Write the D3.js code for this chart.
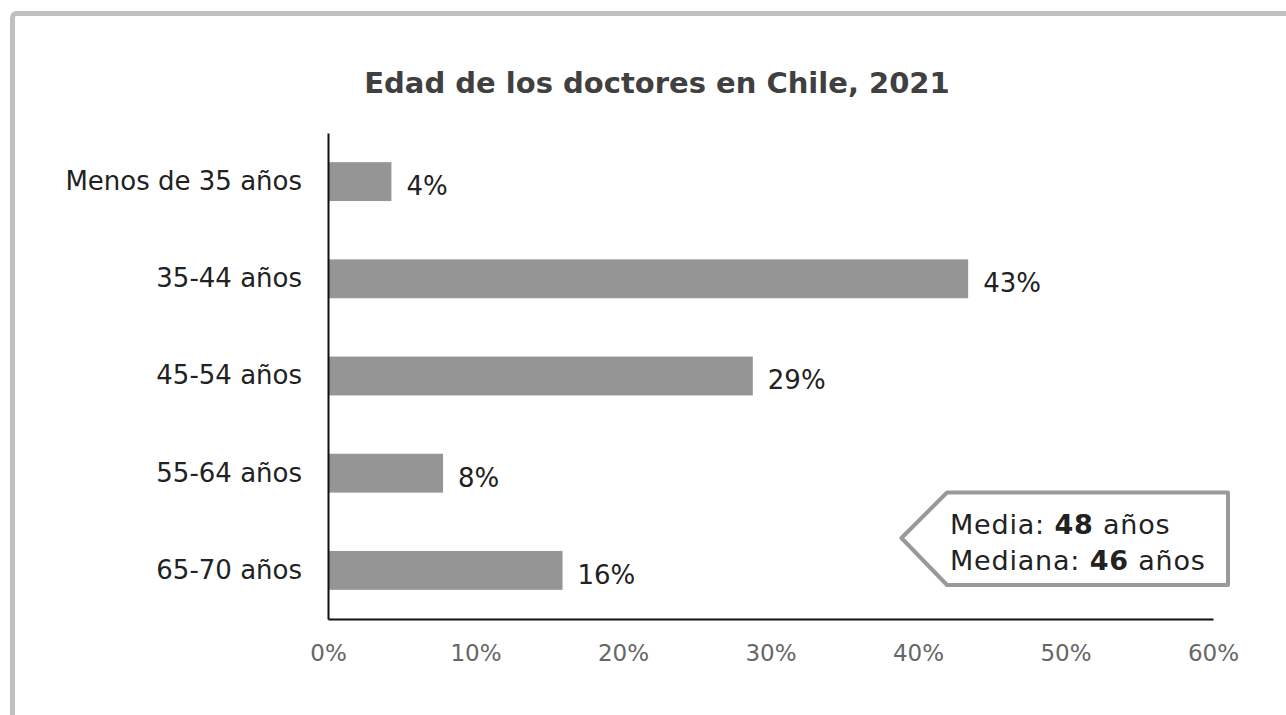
<!DOCTYPE html>
<html><head><meta charset="utf-8">
<script src="https://cdn.jsdelivr.net/npm/d3@7"></script>
<style>
html,body{margin:0;padding:0;background:#fff;}
svg{display:block;font-family:"DejaVu Sans",sans-serif;}
</style></head>
<body>
<svg id="c" width="1286" height="715"></svg>
<script>
const title = "Edad de los doctores en Chile, 2021";
const categories = ["Menos de 35 años","35-44 años","45-54 años","55-64 años","65-70 años"];
const values = [4.3, 43.4, 28.8, 7.8, 15.9];
const valueLabels = ["4%","43%","29%","8%","16%"];
const xTicks = [0,10,20,30,40,50,60];
const noteLines = [["Media: ","48"," años"],["Mediana: ","46"," años"]];

const svg = d3.select("#c");
// frame
svg.append("rect").attr("x",12.5).attr("y",13.5).attr("width",1400).attr("height",800)
  .attr("rx",4).attr("fill","none").attr("stroke","#c0c0c0").attr("stroke-width",5);

const x = d3.scaleLinear().domain([0,60]).range([328,1213]);
const y = d3.scaleBand().domain(categories).range([133,619]).paddingInner(0.6).paddingOuter(0.3);

svg.append("text").attr("x",657).attr("y",92.5).attr("text-anchor","middle")
  .attr("font-size",29).attr("font-weight","bold").attr("fill","#404040").text(title);

svg.selectAll("rect.bar").data(values).join("rect").attr("class","bar")
  .attr("x",x(0)).attr("y",(d,i)=>y(categories[i])).attr("width",d=>x(d)-x(0))
  .attr("height",y.bandwidth()).attr("fill","#959595");

svg.selectAll("text.val").data(values).join("text").attr("class","val")
  .attr("x",d=>x(d)+15).attr("y",(d,i)=>y(categories[i])+y.bandwidth()/2+5)
  .attr("dy","0.32em").attr("font-size",26).attr("fill","#222").text((d,i)=>valueLabels[i]);

// y axis
const ya = svg.append("g").attr("transform",`translate(${x(0)},0)`)
  .call(d3.axisLeft(y).tickSize(0).tickPadding(26));
ya.select(".domain").attr("stroke","#111").attr("stroke-width",2);
ya.selectAll("text").attr("font-size",26).attr("fill","#222").attr("font-family","DejaVu Sans");

// x axis
const xa = svg.append("g").attr("transform","translate(0,619)")
  .call(d3.axisBottom(x).tickValues(xTicks).tickSize(0).tickPadding(26).tickFormat(d=>d+"%"));
xa.select(".domain").attr("stroke","#111").attr("stroke-width",2);
xa.selectAll("text").attr("font-size",23).attr("fill","#666").attr("font-family","DejaVu Sans");

// callout
const pts = [[901.5,538],[947,492.5],[1228,492.5],[1228,585],[947,585]];
svg.append("path").attr("d",d3.line()(pts)+"Z").attr("fill","#fff")
  .attr("stroke","#999").attr("stroke-width",4).attr("stroke-linejoin","round");
noteLines.forEach((ln,i)=>{
  const t = svg.append("text").attr("x",950).attr("y",534+i*36).attr("font-size",27)
    .attr("letter-spacing",0.8).attr("fill","#222");
  t.append("tspan").text(ln[0]);
  t.append("tspan").attr("font-weight","bold").text(ln[1]);
  t.append("tspan").text(ln[2]);
});
</script>
</body></html>
